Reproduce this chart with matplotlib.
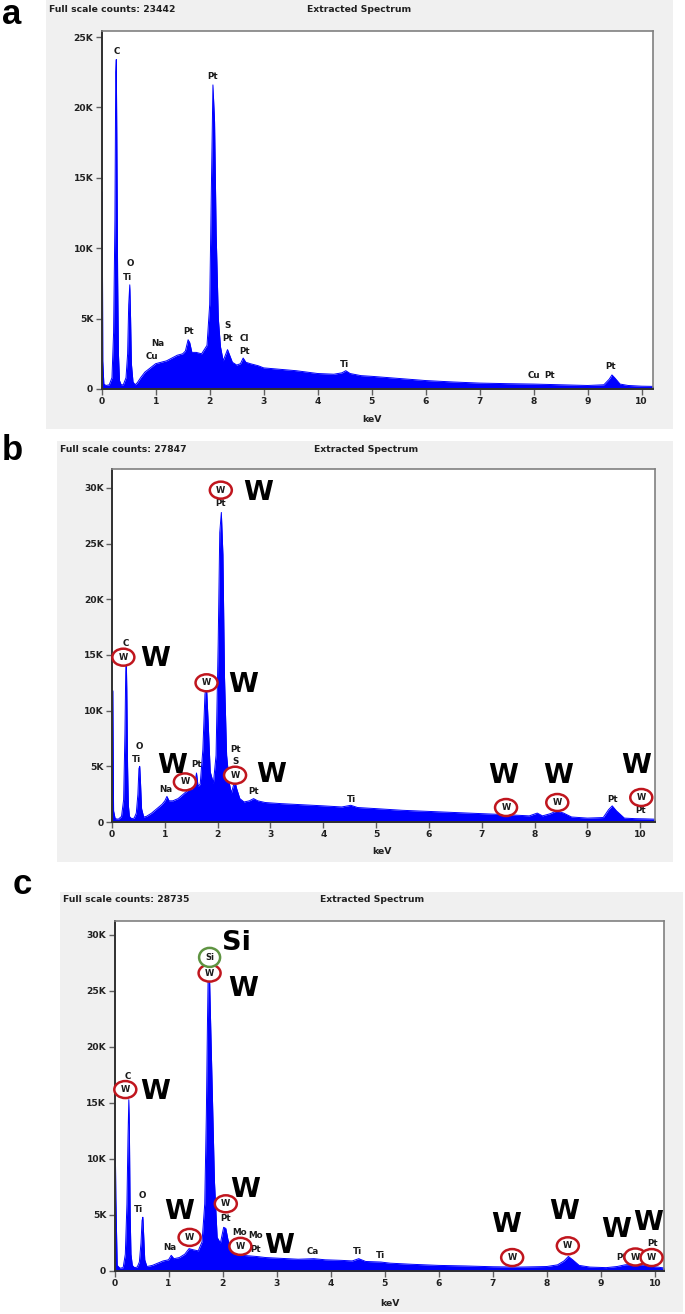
import matplotlib
matplotlib.use('Agg')
import matplotlib.pyplot as plt
from matplotlib.patches import Rectangle, Ellipse
from matplotlib.transforms import ScaledTranslation

W_PX, H_PX = 685, 1314
BLUE = '#0000ff'
RED = '#c0161e'
GREEN = '#5f9442'
GRAY_BG = '#f0f0f0'

# ---- spectrum a (keV, counts in K) ----
energy_a = [0.0, 0.01, 0.02, 0.04, 0.08, 0.14, 0.19, 0.22, 0.245, 0.26, 0.27, 0.28, 0.295, 0.31, 0.33,
            0.36, 0.40, 0.45, 0.48, 0.50, 0.52, 0.535, 0.55, 0.58, 0.62, 0.66, 0.72, 0.8, 0.9, 1.0,
            1.1, 1.2, 1.3, 1.4, 1.5, 1.55, 1.6, 1.63, 1.67, 1.75, 1.85, 1.95, 2.0, 2.03, 2.06,
            2.09, 2.12, 2.16, 2.2, 2.25, 2.3, 2.33, 2.37, 2.42, 2.5, 2.57, 2.62, 2.67, 2.75, 2.9,
            3.0, 3.3, 3.6, 4.0, 4.3, 4.45, 4.52, 4.6, 4.8, 5.0, 5.5, 6.0, 6.5, 7.0, 7.5,
            8.0, 8.5, 9.0, 9.3, 9.4, 9.45, 9.5, 9.6, 9.75, 10.0, 10.3]
counts_a = [12.8, 14.0, 2.0, 0.35, 0.25, 0.3, 0.8, 4.0, 12.0, 22.5, 23.4, 18.0, 8.0, 2.5, 0.6,
            0.3, 0.3, 0.8, 2.5, 6.0, 7.4, 5.0, 1.8, 0.5, 0.3, 0.45, 0.8, 1.2, 1.5, 1.8,
            1.9, 2.0, 2.2, 2.4, 2.5, 2.7, 3.5, 3.3, 2.6, 2.6, 2.5, 3.1, 6.0, 14.0, 21.6,
            19.0, 11.0, 5.0, 3.0, 2.0, 2.5, 2.8, 2.4, 1.9, 1.7, 1.8, 2.2, 1.9, 1.8, 1.65,
            1.5, 1.4, 1.3, 1.1, 1.05, 1.15, 1.3, 1.1, 0.95, 0.9, 0.75, 0.6, 0.5, 0.42, 0.38,
            0.35, 0.3, 0.25, 0.3, 0.7, 1.0, 0.8, 0.35, 0.25, 0.2, 0.18]

# ---- spectrum b ----
energy_b = [0.0, 0.015, 0.03, 0.06, 0.12, 0.18, 0.22, 0.245, 0.26, 0.27, 0.28, 0.295, 0.31, 0.33, 0.37,
            0.42, 0.46, 0.49, 0.51, 0.525, 0.54, 0.56, 0.6, 0.65, 0.75, 0.85, 0.95, 1.0, 1.04, 1.08,
            1.15, 1.25, 1.35, 1.45, 1.52, 1.57, 1.6, 1.63, 1.67, 1.72, 1.76, 1.79, 1.82, 1.86, 1.92,
            1.97, 2.01, 2.04, 2.07, 2.1, 2.13, 2.17, 2.22, 2.26, 2.3, 2.33, 2.36, 2.42, 2.5, 2.6,
            2.68, 2.76, 2.9, 3.2, 3.6, 4.0, 4.35, 4.52, 4.65, 5.0, 5.5, 6.0, 6.5, 7.0, 7.5,
            7.9, 8.05, 8.15, 8.3, 8.42, 8.55, 8.7, 9.0, 9.3, 9.4, 9.47, 9.55, 9.7, 9.9, 10.1, 10.3]
counts_b = [11.8, 11.8, 1.0, 0.3, 0.25, 0.5, 2.0, 8.0, 13.5, 14.8, 12.0, 5.0, 1.5, 0.5, 0.3,
            0.35, 0.8, 2.5, 4.8, 5.0, 3.5, 1.2, 0.45, 0.5, 0.8, 1.2, 1.6, 1.9, 2.3, 1.9,
            1.9, 2.1, 2.5, 2.9, 3.0, 3.6, 4.4, 3.2, 3.4, 6.5, 11.5, 12.1, 9.0, 4.5, 3.5,
            6.0, 16.0, 26.0, 27.8, 24.0, 13.0, 6.0, 3.5, 2.6, 3.3, 3.6, 3.0, 2.1, 1.8, 1.9,
            2.1, 1.9, 1.75, 1.65, 1.55, 1.45, 1.35, 1.5, 1.3, 1.2, 1.05, 0.95, 0.85, 0.75, 0.65,
            0.55, 0.8, 0.55, 0.75, 1.0, 0.8, 0.45, 0.35, 0.4, 1.1, 1.45, 1.0, 0.35, 0.3, 0.28, 0.25]

# ---- spectrum c ----
energy_c = [0.0, 0.012, 0.025, 0.05, 0.1, 0.16, 0.2, 0.23, 0.25, 0.265, 0.275, 0.29, 0.305, 0.33, 0.37,
            0.42, 0.46, 0.49, 0.51, 0.525, 0.54, 0.56, 0.6, 0.7, 0.8, 0.9, 1.0, 1.05, 1.1, 1.2,
            1.3, 1.38, 1.45, 1.55, 1.62, 1.67, 1.7, 1.72, 1.74, 1.76, 1.78, 1.81, 1.85, 1.9, 1.96,
            2.02, 2.06, 2.1, 2.16, 2.25, 2.35, 2.5, 2.62, 2.8, 3.0, 3.4, 3.69, 3.9, 4.2, 4.4,
            4.52, 4.65, 4.93, 5.1, 5.5, 6.0, 6.5, 7.0, 7.5, 8.0, 8.2, 8.32, 8.4, 8.48, 8.6,
            8.8, 9.1, 9.3, 9.45, 9.6, 9.75, 9.9, 10.05, 10.2]
counts_c = [12.5, 12.5, 6.5, 0.5, 0.25, 0.3, 1.5, 6.0, 12.0, 15.3, 13.0, 5.0, 1.5, 0.5, 0.3,
            0.35, 0.8, 2.5, 4.5, 4.8, 3.2, 1.0, 0.4, 0.5, 0.7, 0.9, 1.0, 1.4, 1.1, 1.2,
            1.5, 2.0, 1.9, 1.8, 2.6, 6.0, 14.0, 22.0, 28.7, 26.0, 22.0, 16.0, 8.0, 3.0, 2.5,
            3.9, 3.8, 2.8, 1.9, 1.6, 1.4, 1.35, 1.3, 1.2, 1.15, 1.05, 1.1, 1.0, 0.95, 0.9,
            1.1, 0.85, 0.8, 0.7, 0.6, 0.5, 0.45, 0.38, 0.35, 0.4, 0.55, 0.9, 1.3, 1.0, 0.5,
            0.35, 0.3, 0.4, 0.55, 0.6, 0.55, 0.45, 0.35, 0.25]

full_scale = [23442, 27847, 28735]
x_ticks = list(range(11))

# peak labels (text, keV, K)
labels_a = [('C', 0.28, 24.0), ('Pt', 2.06, 22.2), ('O', 0.54, 8.9), ('Ti', 0.47, 7.9),
            ('Na', 1.04, 3.2), ('Cu', 0.93, 2.3), ('Pt', 1.60, 4.1), ('S', 2.33, 4.5),
            ('Pt', 2.33, 3.6), ('Cl', 2.65, 3.6), ('Pt', 2.64, 2.65), ('Ti', 4.5, 1.75),
            ('Cu', 8.01, 0.95), ('Pt', 8.3, 0.95), ('Pt', 9.42, 1.6)]
labels_b = [('Pt', 2.06, 28.6), ('C', 0.265, 16.0), ('O', 0.52, 6.8), ('Ti', 0.456, 5.6),
            ('Pt', 1.6, 5.2), ('Na', 1.02, 2.95), ('Pt', 2.33, 6.5), ('S', 2.33, 5.4),
            ('Pt', 2.68, 2.7), ('Ti', 4.54, 2.05), ('Pt', 9.48, 2.05), ('Pt', 10.0, 1.0)]
labels_c = [('C', 0.25, 17.4), ('O', 0.52, 6.7), ('Ti', 0.44, 5.5), ('Na', 1.03, 2.1),
            ('Pt', 2.05, 4.7), ('Mo', 2.31, 3.4), ('Mo', 2.62, 3.2), ('Pt', 2.62, 1.95),
            ('Ca', 3.66, 1.7), ('Ti', 4.5, 1.7), ('Ti', 4.92, 1.35), ('Pt', 9.38, 1.2),
            ('Pt', 9.96, 2.5)]
# red-ringed W markers (keV, K)
rings_b = [(2.06, 29.8), (0.215, 14.8), (1.79, 12.5), (1.38, 3.6), (2.33, 4.2),
           (7.46, 1.3), (8.43, 1.75), (10.02, 2.2)]
rings_c = [(1.76, 26.6), (0.2, 16.2), (1.39, 3.0), (2.06, 6.0), (2.33, 2.2),
           (7.36, 1.2), (8.39, 2.25), (9.64, 1.25), (9.94, 1.2)]
# large W annotations (keV, K)
big_b = [(2.77, 29.5), (0.81, 14.6), (2.49, 12.3), (1.13, 5.0), (3.01, 4.2),
         (7.4, 4.1), (8.44, 4.1), (9.92, 5.0)]
big_c = [(2.38, 25.2), (0.75, 16.0), (1.2, 5.3), (2.42, 7.2), (3.04, 2.2),
         (7.24, 4.1), (8.32, 5.3), (9.29, 3.7), (9.88, 4.3)]

fig = plt.figure(figsize=(W_PX / 100, H_PX / 100), dpi=100)


def fx(x):
    return x / W_PX


def fy(y):
    return 1 - y / H_PX


panels = [
    dict(e=energy_a, c=counts_a, box=(46, 0, 673, 429), ax=(101.7, 30.7, 653, 389), xmax=10.21, ymax=25.45,
         yt=[0, 5, 10, 15, 20, 25], head_y=10, head_x=49, ext_x=359, kev=(372, 420), letter=('a', 12, 15),
         labels=labels_a, rings=[], big=[]),
    dict(e=energy_b, c=counts_b, box=(57, 441, 673, 862), ax=(112, 469, 655, 822), xmax=10.28, ymax=31.7,
         yt=[0, 5, 10, 15, 20, 25, 30], head_y=449, head_x=60, ext_x=366, kev=(382, 852), letter=('b', 12, 450),
         labels=labels_b, rings=rings_b, big=big_b),
    dict(e=energy_c, c=counts_c, box=(60, 892, 683, 1312), ax=(114.5, 921, 664, 1271), xmax=10.17, ymax=31.25,
         yt=[0, 5, 10, 15, 20, 25, 30], head_y=899, head_x=63, ext_x=372, kev=(390, 1303), letter=('c', 22, 884),
         labels=labels_c, rings=rings_c, big=big_c),
]


def ring(ax, x, y, color, txt, w=0.22, h=0.17):
    tr = fig.dpi_scale_trans + ScaledTranslation(x, y, ax.transData)
    ax.add_patch(Ellipse((0, 0), w, h, transform=tr, facecolor='white', edgecolor=color,
                         lw=1.8, zorder=5, clip_on=False))
    ax.text(x, y, txt, ha='center', va='center', fontsize=6, weight='bold', color='#1a1a1a',
            zorder=6, clip_on=False)


def big_text(ax, x, y, txt):
    ax.text(x, y, txt, ha='center', va='center', fontsize=19.5, weight='bold', color='black',
            zorder=7, clip_on=False)


for i, p in enumerate(panels):
    x0, y0, x1, y1 = p['box']
    fig.patches.append(Rectangle((fx(x0), fy(y1)), (x1 - x0) / W_PX, (y1 - y0) / H_PX,
                                 transform=fig.transFigure, facecolor=GRAY_BG, edgecolor='none', zorder=-10))
    l, t, r, b = p['ax']
    ax = fig.add_axes([fx(l), fy(b), (r - l) / W_PX, (b - t) / H_PX])
    ax.set_facecolor('white')
    ax.fill_between(p['e'], 0, p['c'], color=BLUE, lw=0, zorder=2)
    ax.plot(p['e'], p['c'], color=BLUE, lw=0.7, zorder=2)
    ax.set_xlim(0, p['xmax'])
    ax.set_ylim(0, p['ymax'])
    ax.set_xticks(x_ticks)
    ax.set_xticklabels([str(v) for v in x_ticks])
    ax.set_yticks(p['yt'])
    ax.set_yticklabels(['0' if v == 0 else f'{v}K' for v in p['yt']])
    ax.tick_params(direction='out', length=4, width=1, color='#606060', labelsize=6.6,
                   labelcolor='#202020', pad=2)
    for lab in ax.get_xticklabels() + ax.get_yticklabels():
        lab.set_fontweight('bold')
    for s in ['left', 'bottom']:
        ax.spines[s].set_color('#303030')
        ax.spines[s].set_linewidth(1.4)
    for s in ['top', 'right']:
        ax.spines[s].set_color('#808080')
        ax.spines[s].set_linewidth(1.2)

    fig.text(fx(p['head_x']), fy(p['head_y']), f'Full scale counts: {full_scale[i]}', ha='left',
             va='center', fontsize=6.7, weight='bold', color='#202020')
    fig.text(fx(p['ext_x']), fy(p['head_y']), 'Extracted Spectrum', ha='center', va='center',
             fontsize=6.7, weight='bold', color='#202020')
    fig.text(fx(p['kev'][0]), fy(p['kev'][1]), 'keV', ha='center', va='center', fontsize=6.7,
             weight='bold', color='#202020')
    let, lx, ly = p['letter']
    fig.text(fx(lx), fy(ly), let, ha='center', va='center', fontsize=25, weight='bold',
             family=['Liberation Sans', 'DejaVu Sans'])

    for txt, x, y in p['labels']:
        ax.text(x, y, txt, ha='center', va='center', fontsize=6.3, weight='bold', color='#1a1a1a',
                zorder=4, clip_on=False)
    for x, y in p['rings']:
        ring(ax, x, y, RED, 'W')
    for x, y in p['big']:
        big_text(ax, x, y, 'W')

    if i == 2:
        ring(ax, 1.76, 28.0, GREEN, 'Si', w=0.21, h=0.19)
        big_text(ax, 2.25, 29.3, 'Si')

fig.savefig('out.png', dpi=100)
